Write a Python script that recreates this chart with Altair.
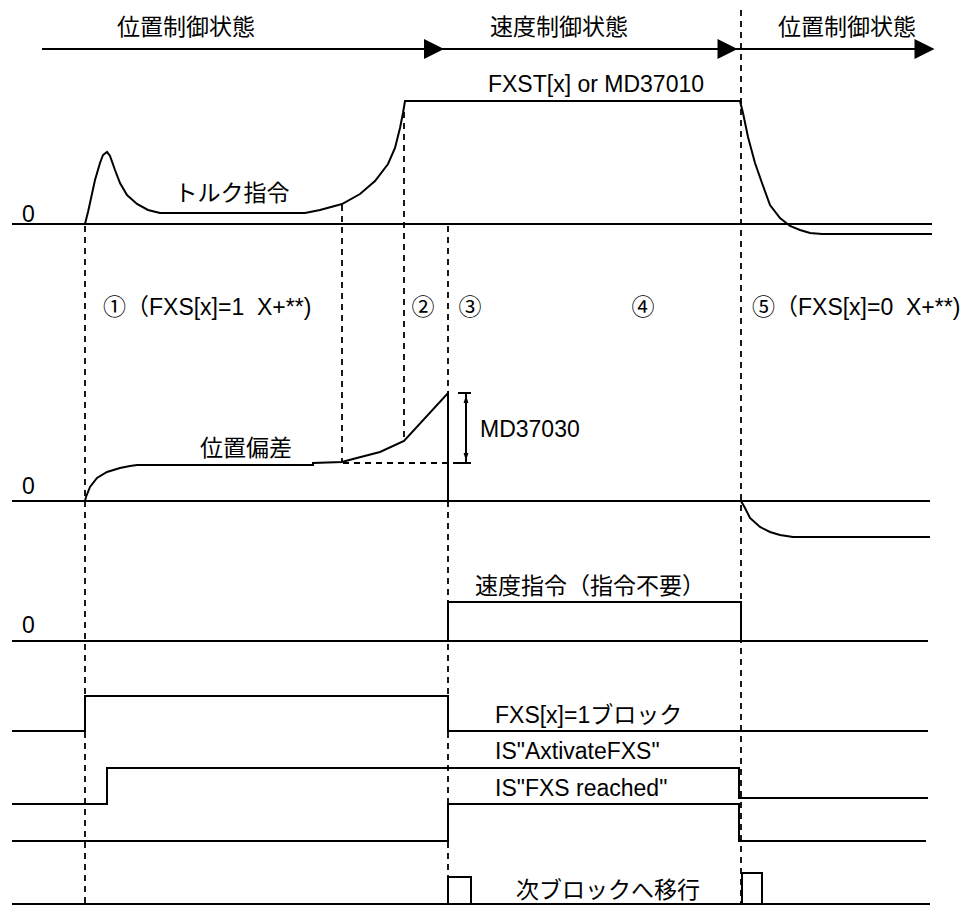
import altair as alt
import pandas as pd

# ---------------- diagram data (time axis = x, signal level = y, downward) ----------------
# State arrows at the top
state_line_x = [42, 920]
state_line_y = [49, 49]
arrowhead_x = [434, 727.5, 924.5]
arrowhead_y = [49, 49, 49]
state_labels = ["位置制御状態", "速度制御状態", "位置制御状態"]
state_label_x = [186, 559, 847]
state_label_y = [28, 28, 28]

# Torque command
torque_zero_x = [12, 932]
torque_zero_y = [224, 224]
torque_x = [85, 88, 90, 95, 100, 103, 107, 110, 115, 120, 127, 137, 148, 160, 305, 320, 342, 360,
            375, 388, 395, 400, 403, 405, 740, 743, 748, 755, 762, 770, 780, 790, 800, 810, 822, 932]
torque_y = [224, 212, 203, 180, 163, 155, 152, 156, 170, 183, 195, 204, 210, 213, 213, 210, 204, 194,
            181, 164, 148, 128, 113, 101, 101, 113, 137, 163, 183, 205, 218, 226, 230, 233, 234, 234]

# Position deviation
dev_zero_x = [12, 930]
dev_zero_y = [501, 501]
dev_x = [85, 86, 90, 97, 107, 120, 130, 137, 313, 313, 342, 353, 380, 404, 448, 448]
dev_y = [501, 497, 487, 478, 472, 468, 466, 465, 465, 463, 462, 459, 452, 441, 393, 501]
dev2_x = [741, 745, 750, 760, 770, 780, 793, 930]
dev2_y = [501, 508, 518, 527, 532, 535, 537, 537]

# Speed command
speed_zero_x = [12, 928]
speed_zero_y = [641, 641]
speed_x = [448, 448, 741, 741]
speed_y = [641, 602, 602, 641]

# FXS[x]=1 block
fxs_x = [12, 85, 85, 448, 448, 928]
fxs_y = [731, 731, 696, 696, 731, 731]

# IS "AxtivateFXS"
act_x = [12, 107, 107, 739, 739, 928]
act_y = [804, 804, 768, 768, 798, 798]

# IS "FXS reached"
reach_x = [12, 448, 448, 739, 739, 926]
reach_y = [841, 841, 804, 804, 841, 841]

# Next block transition
next_base_x = [12, 930]
next_base_y = [904, 904]
next_p1_x = [448, 448, 471, 471]
next_p1_y = [904, 877, 877, 904]
next_p2_x = [742, 742, 762, 762]
next_p2_y = [904, 873, 873, 904]

# MD37030 dimension
dim_x = [466, 466]
dim_y = [393, 463]
dim_tick1_x = [458, 471]
dim_tick1_y = [393, 393]
dim_tick2_x = [458, 471]
dim_tick2_y = [463, 463]
dim_up_x, dim_up_y = [466], [399]
dim_dn_x, dim_dn_y = [466], [457]

# Dashed guide lines
dash_series = {
    "g1": ([85, 85], [226, 905]),
    "g2": ([342, 342], [205, 462]),
    "g3": ([404, 404], [112, 440]),
    "g4": ([448, 448], [226, 905]),
    "g5": ([741, 741], [10, 905]),
    "g6": ([343, 458], [463, 463]),
}

# Labels
NB = "\u00a0"
center_text = state_labels + ["FXST[x] or MD37010", "トルク指令", "位置偏差", "②", "③", "④", "次ブロックへ移行"]
center_x = state_label_x + [596, 232, 246, 423, 470, 643, 608]
center_y = state_label_y + [85, 194, 449, 308, 308, 308, 891]

left_text = ["0", "0", "0", "①（FXS[x]=1" + NB + NB + "X+**)", "⑤（FXS[x]=0" + NB + NB + "X+**)", "MD37030",
             "速度指令（指令不要）", "FXS[x]=1ブロック", "IS\"AxtivateFXS\"", "IS\"FXS reached\""]
left_x = [22, 22, 22, 103, 752, 480, 475, 495, 495, 495]
left_y = [215, 487, 626, 308, 308, 430, 587, 716, 752, 789]

# ---------------- build tables ----------------
solid_series = {
    "state": (state_line_x, state_line_y),
    "tz": (torque_zero_x, torque_zero_y),
    "tq": (torque_x, torque_y),
    "dz": (dev_zero_x, dev_zero_y),
    "dv": (dev_x, dev_y),
    "dv2": (dev2_x, dev2_y),
    "sz": (speed_zero_x, speed_zero_y),
    "sp": (speed_x, speed_y),
    "fxs": (fxs_x, fxs_y),
    "act": (act_x, act_y),
    "rch": (reach_x, reach_y),
    "nb": (next_base_x, next_base_y),
    "np1": (next_p1_x, next_p1_y),
    "np2": (next_p2_x, next_p2_y),
    "dim": (dim_x, dim_y),
    "dt1": (dim_tick1_x, dim_tick1_y),
    "dt2": (dim_tick2_x, dim_tick2_y),
}


def to_rows(series):
    rows = []
    for sid, (xs, ys) in series.items():
        for i, (a, b) in enumerate(zip(xs, ys)):
            rows.append({"sid": sid, "ord": i, "x": a, "y": b})
    return pd.DataFrame(rows)


solid_df = to_rows(solid_series)
dash_df = to_rows(dash_series)
heads_df = pd.DataFrame({"x": arrowhead_x, "y": arrowhead_y})
up_df = pd.DataFrame({"x": dim_up_x, "y": dim_up_y})
dn_df = pd.DataFrame({"x": dim_dn_x, "y": dim_dn_y})
ctext_df = pd.DataFrame({"x": center_x, "y": center_y, "t": center_text})
ltext_df = pd.DataFrame({"x": left_x, "y": left_y, "t": left_text})

W, H = 959, 897
xs = alt.Scale(domain=[8, 8 + W], nice=False, zero=False)
ys = alt.Scale(domain=[8, 8 + H], nice=False, zero=False, reverse=True)
X = alt.X("x:Q", scale=xs, axis=None)
Y = alt.Y("y:Q", scale=ys, axis=None)
FONT = "'Liberation Sans', 'Noto Sans CJK JP', sans-serif"
FS = 23

solid = alt.Chart(solid_df).mark_line(color="black", strokeWidth=2, strokeCap="butt").encode(
    x=X, y=Y, detail="sid:N", order="ord:Q")
dashed = alt.Chart(dash_df).mark_line(color="black", strokeWidth=1.8, strokeDash=[6, 5], strokeCap="butt").encode(
    x=X, y=Y, detail="sid:N", order="ord:Q")
heads = alt.Chart(heads_df).mark_point(shape="M-1,-1L1,0L-1,1Z", filled=True, size=400, color="black",
                                      opacity=1, strokeWidth=0).encode(x=X, y=Y)
ups = alt.Chart(up_df).mark_point(shape="M0,-1L0.6,1L-0.6,1Z", filled=True, size=64, color="black",
                                  opacity=1, strokeWidth=0).encode(x=X, y=Y)
dns = alt.Chart(dn_df).mark_point(shape="M0,1L0.6,-1L-0.6,-1Z", filled=True, size=64, color="black",
                                  opacity=1, strokeWidth=0).encode(x=X, y=Y)
ctext = alt.Chart(ctext_df).mark_text(align="center", baseline="middle", fontSize=FS, font=FONT,
                                      color="black").encode(x=X, y=Y, text="t:N")
ltext = alt.Chart(ltext_df).mark_text(align="left", baseline="middle", fontSize=FS, font=FONT,
                                      color="black").encode(x=X, y=Y, text="t:N")

chart = alt.layer(dashed, solid, heads, ups, dns, ctext, ltext).properties(
    width=W, height=H, autosize=alt.AutoSizeParams(type="none"), padding=0
).configure_view(stroke=None)

chart.save("out.html", embed_options={"renderer": "svg", "actions": False})
